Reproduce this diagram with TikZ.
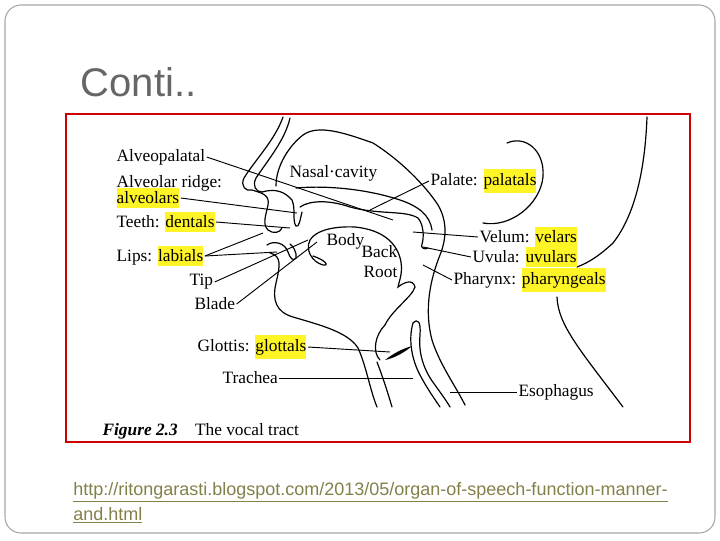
\documentclass[tikz,border=0pt]{standalone}
\usepackage{fontspec}
\setmainfont{Liberation Serif}
\newfontfamily\arialf{Liberation Sans}
\begin{document}
\begin{tikzpicture}[x=0.75pt,y=-0.75pt,
  lab/.style={inner sep=1pt,anchor=west,font=\fontsize{13}{15}\selectfont},
  anat/.style={line width=0.9pt,line cap=round},
  lead/.style={line width=0.7pt}]
\useasboundingbox (0,0) rectangle (720,540);
\draw[gray!70,line width=0.8pt,rounded corners=12] (5,5) rectangle (715,533);
\node[anchor=west,text=gray!80!black,font=\arialf\fontsize{30}{34}\selectfont] (title) at (76,82) {Conti..};
\draw[red!80!black,line width=1.6pt] (66,114) rectangle (690,442);
% anatomy
\draw[anat] (283,117) .. controls (275,140) and (255,160) .. (244,178) .. controls (240,186) and (246,192) .. (252,190)
  .. controls (262,193) and (270,195) .. (268,205) .. controls (266,215) and (262,224) .. (268,230) .. controls (273,234) and (280,233) .. (282,228);
\draw[anat] (290,118) .. controls (285,140) and (268,160) .. (256,178) .. controls (252,186) and (256,192) .. (262,192);
\draw[anat] (262,192) .. controls (276,188) and (285,192) .. (292,200) .. controls (296,210) and (292,220) .. (296,226) .. controls (299,228) and (300,220) .. (302,212);
\draw[anat] (300,207) .. controls (310,200) and (330,200) .. (350,207) .. controls (380,215) and (405,210) .. (418,218) .. controls (424,225) and (424,238) .. (422,244) .. controls (420,248) and (425,250) .. (428,248);
\draw[anat] (276,186) .. controls (276,165) and (290,145) .. (303,135) .. controls (318,124) and (345,133) .. (373,143)
  .. controls (400,160) and (425,185) .. (438,205) .. controls (448,222) and (446,240) .. (440,255) .. controls (430,280) and (424,310) .. (432,340) .. controls (440,365) and (455,385) .. (465,405);
\draw[anat] (296,188) .. controls (330,185) and (370,190) .. (400,200) .. controls (418,206) and (430,215) .. (432,230);
\draw[anat] (270,253) .. controls (282,256) and (280,266) .. (276,283) .. controls (272,300) and (276,312) .. (293,317) .. controls (320,325) and (348,332) .. (358,348) .. controls (366,365) and (370,390) .. (377,407);
\draw[anat] (267,245) .. controls (274,240) and (285,243) .. (288,252) .. controls (290,258) and (293,262) .. (296,258) .. controls (297,252) and (293,246) .. (290,244);
\draw[anat] (310,240) .. controls (316,230) and (335,226) .. (355,227) .. controls (385,230) and (398,245) .. (401,262) .. controls (403,275) and (398,284) .. (398,287) .. controls (403,283) and (413,278) .. (415,287) .. controls (412,297) and (392,310) .. (385,325) .. controls (375,335) and (372,352) .. (380,360);
\draw[anat] (310,240) .. controls (305,250) and (312,262) .. (323,265) .. controls (330,266) and (325,260) .. (313,256);
\draw[anat] (377,362) .. controls (382,375) and (387,390) .. (392,407);
\draw[anat] (413,323) .. controls (408,340) and (412,360) .. (420,375) .. controls (428,390) and (434,398) .. (440,407);
\draw[anat] (413,323) .. controls (418,318) and (421,322) .. (420,335) .. controls (418,355) and (425,372) .. (435,385) .. controls (442,395) and (446,400) .. (450,407);
\fill (385,360) .. controls (395,352) and (405,348) .. (412,346) .. controls (405,352) and (395,358) .. (385,360);
\draw[anat] (557,297) .. controls (558,325) and (580,350) .. (623,407);
\draw[anat] (647,117) .. controls (645,170) and (635,215) .. (613,243) .. controls (600,255) and (590,262) .. (577,267);
\draw[anat] (507,143) .. controls (525,135) and (545,150) .. (543,177) .. controls (540,205) and (510,228) .. (483,223);
% labels
\node[lab] (alp) at (115,157) {Alveopalatal};
\node[lab] (alr) at (115,183) {Alveolar ridge:};
\node[lab] (alv) at (115,198) {\colorbox{yellow!85}{\hspace{-3pt}alveolars\hspace{-3pt}}};
\node[lab] (tee) at (115,222) {Teeth: \colorbox{yellow!85}{\hspace{-3pt}dentals\hspace{-3pt}}};
\node[lab] (lip) at (115,256) {Lips: \colorbox{yellow!85}{\hspace{-3pt}labials\hspace{-3pt}}};
\node[lab] (tip) at (188,282) {Tip};
\node[lab] (bla) at (193,304) {Blade};
\node[lab] (glo) at (196,347) {Glottis: \colorbox{yellow!85}{\hspace{-3pt}glottals\hspace{-3pt}}};
\node[lab] (tra) at (221,378) {Trachea};
\node[lab] (nas) at (288,173) {Nasal·cavity};
\node[lab] (bod) at (325,241) {Body};
\node[lab] (bac) at (360,252) {Back};
\node[lab] (roo) at (362,272) {Root};
\node[lab] (pal) at (429,181) {Palate: \colorbox{yellow!85}{\hspace{-3pt}palatals\hspace{-3pt}}};
\node[lab] (vel) at (478,237) {Velum: \colorbox{yellow!85}{\hspace{-3pt}velars\hspace{-3pt}}};
\node[lab] (uvu) at (471,257) {Uvula: \colorbox{yellow!85}{\hspace{-3pt}uvulars\hspace{-3pt}}};
\node[lab] (pha) at (452,280) {Pharynx: \colorbox{yellow!85}{\hspace{-3pt}pharyngeals\hspace{-3pt}}};
\node[lab] (eso) at (517,392) {Esophagus};
\node[lab] (fig) at (101,431) {\textbf{\textit{Figure 2.3}}\quad The vocal tract};
% leaders
\coordinate (c1) at (393,220); \coordinate (c2) at (297,213); \coordinate (c3) at (290,228);
\coordinate (c4) at (263,233); \coordinate (c5) at (277,252); \coordinate (c6) at (308,240);
\coordinate (c7) at (317,242); \coordinate (c8) at (390,352); \coordinate (c9) at (413,378);
\coordinate (c10) at (370,210); \coordinate (c11) at (413,232); \coordinate (c12) at (423,247);
\coordinate (c13) at (423,265); \coordinate (c14) at (450,392);
\draw[lead] (alp.east) -- (c1);
\draw[lead] (alv.east) -- (c2);
\draw[lead] (tee.east) -- (c3);
\draw[lead] (lip.east) -- (c4); \draw[lead] (lip.east) -- (c5);
\draw[lead] (tip.east) -- (c6);
\draw[lead] (bla.east) -- (c7);
\draw[lead] (glo.east) -- (c8);
\draw[lead] (tra.east) -- (c9);
\draw[lead] (pal.west) -- (c10);
\draw[lead] (vel.west) -- (c11);
\draw[lead] (uvu.west) -- (c12);
\draw[lead] (pha.west) -- (c13);
\draw[lead] (eso.west) -- (c14);
% URL
\node[anchor=north west,align=left,text=yellow!45!black,font=\arialf\fontsize{13.5}{19}\selectfont,inner sep=0pt] (url) at (73,482)
 {\underline{http://ritongarasti.blogspot.com/2013/05/organ-of-speech-function-manner-}\\\underline{and.html}};
\end{tikzpicture}
\end{document}
